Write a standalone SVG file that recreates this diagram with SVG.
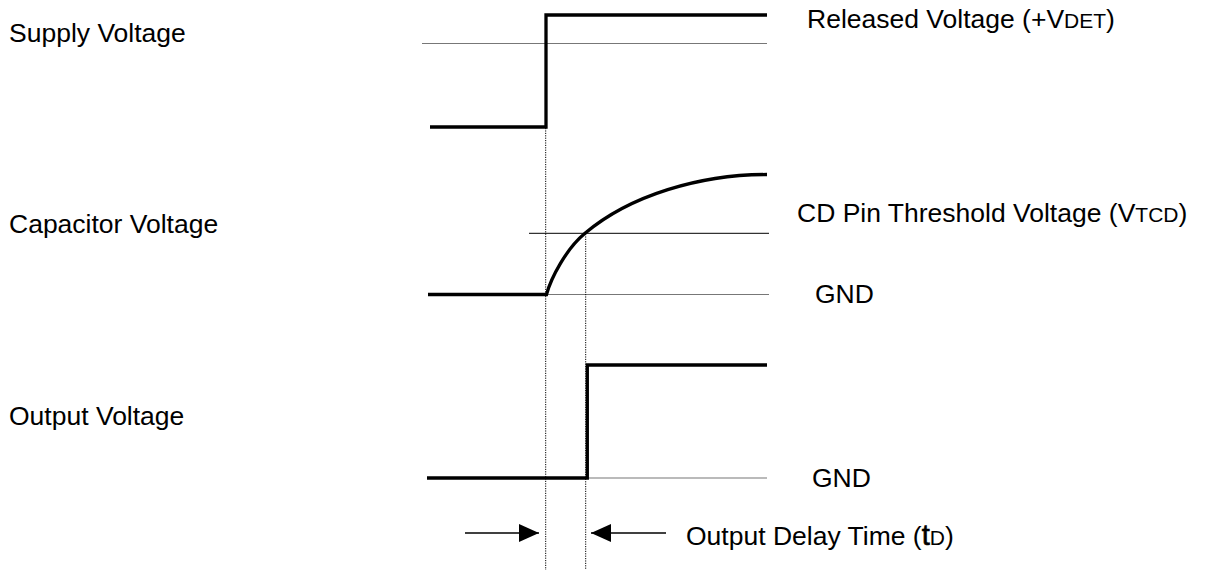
<svg xmlns="http://www.w3.org/2000/svg" width="1207" height="570" viewBox="0 0 1207 570">
<defs>
<marker id="arr" viewBox="0 0 20 18" refX="20" refY="9" markerWidth="20" markerHeight="18" markerUnits="userSpaceOnUse" orient="auto">
<path d="M0,0 L20,9 L0,18 Z" fill="#000"/>
</marker>
<style>
text{font-family:"Liberation Sans",Arial,sans-serif;font-size:26.5px;fill:#000}
.sub{font-size:21px}
.sig{fill:none;stroke:#000;stroke-width:3.3;stroke-linejoin:miter;stroke-linecap:butt}
.ref{fill:none;stroke:#777;stroke-width:1.2}
.thr{fill:none;stroke:#000;stroke-width:1}
.dot{fill:none;stroke:#000;stroke-width:1;stroke-dasharray:1.2,1.2}
.arw{fill:none;stroke:#000;stroke-width:1.5}
</style>
</defs>
<rect width="1207" height="570" fill="#fff"/>
<g id="labels">
<text x="9" y="42">Supply Voltage</text>
<text x="9" y="233">Capacitor Voltage</text>
<text x="9" y="425">Output Voltage</text>
</g>
<g id="supply">
<line class="ref" x1="422" y1="43.5" x2="767" y2="43.5"/>
<path class="sig" d="M430,127 H546 V15 H767"/>
<text x="807" y="28">Released Voltage (+V<tspan class="sub">DET</tspan>)</text>
</g>
<g id="capacitor">
<line class="thr" x1="529" y1="233.3" x2="769" y2="233.3"/>
<line class="ref" x1="546" y1="294.5" x2="769" y2="294.5"/>
<path class="sig" d="M428,294.5 H546.5 C551,278 566,249 585,233.3 C630,195.3 700,174.5 767,174.5"/>
<text x="797" y="222">CD Pin Threshold Voltage (V<tspan class="sub">TCD</tspan>)</text>
<text x="815" y="303">GND</text>
</g>
<g id="output">
<line class="ref" x1="587" y1="478" x2="767" y2="478"/>
<path class="sig" d="M427,478 H587.3 V365 H767"/>
<text x="812" y="487">GND</text>
</g>
<g id="connectors">
<line class="dot" x1="545.7" y1="128" x2="545.7" y2="570"/>
<line class="dot" x1="585.7" y1="234" x2="585.7" y2="570"/>
<line class="arw" x1="465" y1="533" x2="539" y2="533" marker-end="url(#arr)"/>
<line class="arw" x1="666" y1="533" x2="591" y2="533" marker-end="url(#arr)"/>
</g>
<g id="delay">
<text x="686" y="545">Output Delay Time (<tspan font-size="29" stroke="#000" stroke-width="0.6">t</tspan><tspan class="sub">D</tspan>)</text>
</g>
</svg>
